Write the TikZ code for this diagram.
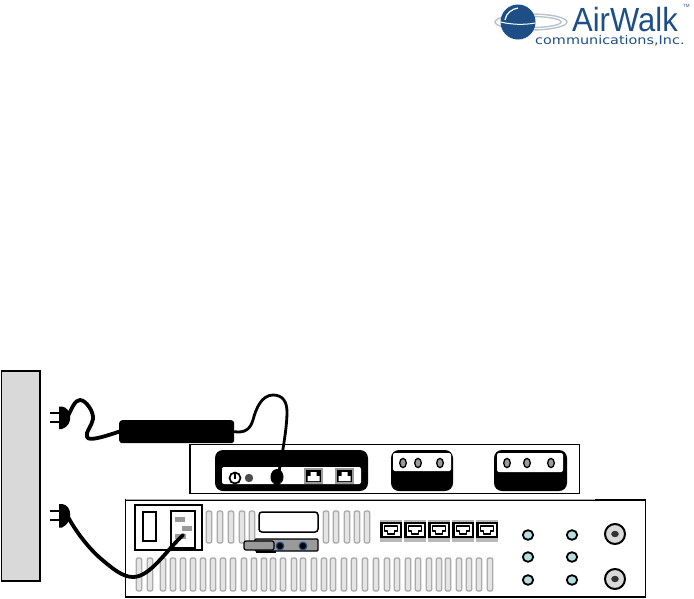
\documentclass[tikz,border=0pt]{standalone}
\usepackage{fontspec}
\setmainfont{Liberation Sans}
\newfontfamily\logofont{DejaVu Sans}
\definecolor{wallgray}{HTML}{D9D9D9}
\definecolor{slotfill}{HTML}{E4E4E4}
\definecolor{slotline}{HTML}{ABABAB}
\definecolor{portgray}{HTML}{9A9A9A}
\definecolor{ledteal}{HTML}{B5DDE0}
\definecolor{logoblue}{HTML}{1D4F86}
\definecolor{ringgray}{HTML}{B9C3CC}
\tikzset{
 box/.style={draw=black,line width=1.6pt,fill=white},
 panel/.style={fill=black,rounded corners=8pt},
 window/.style={fill=white,rounded corners=2pt},
 cable/.style={draw=black,line width=3.8pt,line cap=round,line join=round},
 prong/.style={draw=black,line width=1.3pt},
 slot/.style={draw=slotline,fill=slotfill,line width=1.3pt,rounded corners=2pt},
 post/.style={draw=black,line width=1.3pt,fill=portgray},
 led/.style={draw=black,line width=1.8pt,fill=ledteal},
 rjport/.pic={
  \fill[portgray!70] (-1,-2) rectangle (21,19.5);
  \fill[black] (-1,0) rectangle (21,16);
  \fill[white] (1.5,2) rectangle (18.5,14);
  \draw[black,line width=1.2pt,fill=white,line join=round] (3.5,4) -- (16.5,4) -- (16.5,9) -- (13.5,9) -- (13.5,12) -- (6.5,12) -- (6.5,9) -- (3.5,9) -- cycle;
 },
 rjsmall/.pic={
  \fill[portgray] (0,0) rectangle (19,16);
  \fill[black] (2,2) rectangle (17,14);
  \fill[white,line join=round] (3.5,13) -- (15.5,13) -- (15.5,8) -- (12.5,8) -- (12.5,4) -- (6.5,4) -- (6.5,8) -- (3.5,8) -- cycle;
 }
}
\begin{document}
\begin{tikzpicture}[x=1pt,y=-1pt]
\useasboundingbox (0,0) rectangle (694,598);
% logo
\draw[ringgray,line width=1.4pt] (531,22) ellipse (36 and 8);
\draw[ringgray,line width=1.4pt] (531,22) ellipse (30 and 5.5);
\fill[logoblue] (518,22) circle (17.5);
\draw[white,line width=1.2pt] (505,20) .. controls (506,13) and (512,9) .. (518,8);
\draw[white,line width=1pt] (497,21) .. controls (510,25) and (525,25) .. (535,23);
\node[anchor=base west,inner sep=0,text=logoblue,xscale=.925,font=\fontsize{33.5}{33.5}\selectfont] (logoA) at (572,31) {AirWalk};
\node[anchor=base west,inner sep=0,text=logoblue,xscale=1.2,font=\logofont\fontsize{12}{12}\selectfont] (logoB) at (535,44) {communications,Inc.};
\node[anchor=base west,inner sep=0,text=logoblue,font=\fontsize{4.5}{5}\selectfont] (logoC) at (683,7) {TM};
% wall
\draw[draw=black,line width=1.6pt,fill=wallgray] (1.5,371) rectangle (40,581);
% middle unit
\draw[box] (190,444.5) rectangle (579.5,493.5);
\fill[panel] (215,450) rectangle (368,491);
\fill[window] (222,467) rectangle (361,484);
\fill[white] (323,467) rectangle (335,484);
\draw[black,line width=1.7pt,fill=white] (235,478) circle (5.5);
\draw[black,line width=1.7pt] (235,472) -- (235,478.5);
\fill[black!70] (249,478) circle (4.2);
\pic at (304,468) {rjsmall};
\pic at (335,468) {rjsmall};
\fill[panel] (391,450) rectangle (453,491);
\fill[window] (393,453) rectangle (451,471);
\foreach \x in {403,418,440}
  \draw[post] (\x,463) ellipse (3.3 and 4.6);
\fill[panel] (494,450) rectangle (567,491);
\fill[window] (497,453) rectangle (563,472);
\foreach \x in {507,527,551}
  \draw[post] (\x,463) ellipse (3.3 and 4.6);
% bottom unit
\draw[box] (125.5,500) rectangle (645.5,597);
\draw[slotline,line width=1.6pt] (125.5,499.5) -- (595,499.5);
\foreach \x in {209,220,231,242,252,326,336,347,357,367}
  \draw[slot] (\x-2.8,511) rectangle (\x+2.8,543);
\foreach \x in {139,150,163,173,183,193,203,213,223,233,244,254,264,273,283,294,303,314,324,333,344,354,365,376,387,397,408,418,429,439,448,459,469,479,490}
  \draw[slot] (\x-2.8,558) rectangle (\x+2.8,591);
\draw[box] (135,505) rectangle (202,550);
\draw[box] (143,512) rectangle (156,541);
\draw[box] (171,511) rectangle (195,548);
\fill[portgray] (175,517) rectangle (185,521.5);
\fill[portgray] (182,526) rectangle (192,530.5);
\fill[portgray] (175,534) rectangle (186,539);
\draw[black,line width=1.5pt,fill=white,rounded corners=3pt] (259,512) rectangle (318,532);
\draw[black,line width=1.2pt,fill=portgray,rounded corners=1pt] (255,539) rectangle (318,551);
\draw[black,line width=1.2pt,fill=portgray,rounded corners=2pt] (244,541) rectangle (274,550);
\draw[black,line width=1.8pt] (256,552) -- (276,552);
\foreach \x in {280,303}
  \draw[draw=logoblue,fill=black,line width=1.2pt] (\x,546) circle (3.8);
\foreach \x in {381,405,429,453,477}
  \pic at (\x,522) {rjport};
\foreach \x in {528,572}
  \foreach \y in {535,557,580}
    \draw[led] (\x,\y) ellipse (5.2 and 4.8);
\foreach \y [count=\i] in {534,579} {
  \draw[draw=black,line width=2pt,fill=wallgray] (615,\y) circle (10);
  \fill[black!80] (615,\y) ellipse (3.8 and 3.2);
}
% brick, plugs and connector
\node[fill=black,rounded corners=3pt,minimum width=115pt,minimum height=23pt,inner sep=0,anchor=north west] (brick) at (119,420) {};
\fill[black] (277,477) ellipse (6.5 and 8);
\fill[white] (273,483) circle (.7) (281,483) circle (.7);
\coordinate (jack) at (278,477);
\coordinate (plugtop) at (68,416);
\coordinate (plugbot) at (68,517);
\coordinate (inlet) at (183,535);
\foreach \y in {413,422} \draw[prong] (50,\y) -- (60,\y);
\foreach \y in {511,520} \draw[prong] (50,\y) -- (60,\y);
\fill[black] (59,406.5) -- (62,406.5) .. controls (72,408) and (74,425) .. (62,429) -- (59,429) -- cycle;
\fill[black] (59,504) -- (62,504) .. controls (72,505) and (74,522) .. (62,527.5) -- (59,527.5) -- cycle;
\draw[cable] (plugtop) .. controls (72,408) and (75,400) .. (80,400) .. controls (86,400) and (94,412) .. (93,419) .. controls (92,426) and (85,432) .. (87,437) .. controls (89,441) and (100,438) .. (brick.west);
\draw[cable,line width=2.8pt] (brick.east) .. controls (244,433) and (250,430) .. (253,420) .. controls (256,408) and (262,395) .. (273,395) .. controls (283,395) and (287,402) .. (287,412) .. controls (287,425) and (284,445) .. (jack);
\draw[cable] (plugbot) .. controls (78,535) and (90,549) .. (100,558) .. controls (112,568) and (122,577) .. (133,577) .. controls (150,577) and (165,552) .. (inlet);
\end{tikzpicture}
\end{document}
